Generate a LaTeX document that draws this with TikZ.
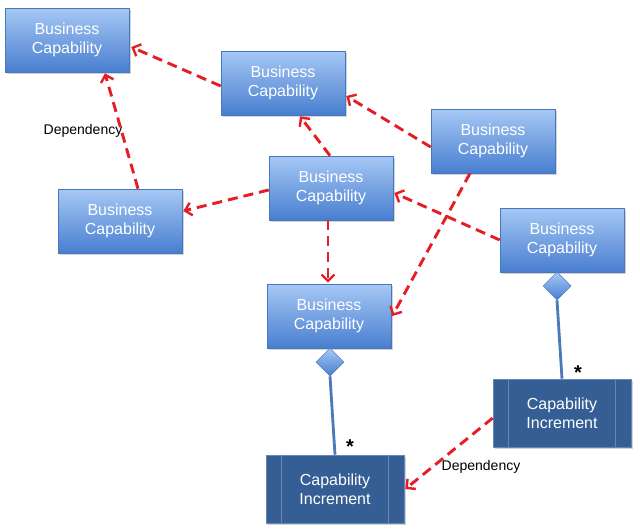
\documentclass[tikz,border=0pt]{standalone}
\usepackage{fontspec}
\setmainfont{Liberation Sans}
\usetikzlibrary{arrows.meta,shapes.geometric,shadows}
\definecolor{bctop}{RGB}{166,200,245}
\definecolor{bcbot}{RGB}{72,126,208}
\definecolor{bcborder}{RGB}{70,120,190}
\definecolor{incfill}{RGB}{52,94,148}
\definecolor{incline}{RGB}{100,135,180}
\definecolor{deparrow}{RGB}{228,30,36}
\definecolor{assoc}{RGB}{74,122,184}
\tikzset{
  bc/.style={draw=bcborder, line width=0.6pt, top color=bctop, bottom color=bcbot,
    minimum width=124pt, minimum height=64pt, align=center, text=white,
    font=\fontsize{16}{19}\selectfont, inner sep=0pt,
    drop shadow={opacity=0.35, shadow xshift=1.5pt, shadow yshift=-2pt}},
  inc/.style={draw=incline, line width=0.6pt, fill=incfill,
    minimum width=138pt, minimum height=68pt, align=center, text=white,
    font=\fontsize{16}{19}\selectfont, inner sep=0pt,
    drop shadow={opacity=0.35, shadow xshift=1.5pt, shadow yshift=-2pt}},
  dia/.style={diamond, draw=bcborder, line width=0.5pt, top color=bctop, bottom color=bcbot,
    minimum width=28pt, minimum height=28pt, inner sep=0pt, aspect=1},
  dep/.style={draw=deparrow, line width=2.9pt, dash pattern=on 10pt off 6pt,
    -{Straight Barb[length=6.5pt,width=13pt,line width=2.4pt]}},
  assocline/.style={draw=assoc, line width=2.8pt},
  lbl/.style={font=\fontsize{14}{16}\selectfont, text=black, inner sep=0pt},
  star/.style={font=\fontsize{20}{20}\selectfont\bfseries, text=black, inner sep=0pt}
}
\begin{document}
\begin{tikzpicture}[x=1pt,y=-1pt]
\useasboundingbox[fill=white] (0,0) rectangle (640,530);
\node[bc] (A) at (67,40) {Business\\Capability};
\node[bc] (B) at (283,83) {Business\\Capability};
\node[bc] (C) at (493,141) {Business\\Capability};
\node[bc] (D) at (331,188) {Business\\Capability};
\node[bc] (E) at (120,221) {Business\\Capability};
\node[bc] (F) at (562,240) {Business\\Capability};
\node[bc] (G) at (329,316) {Business\\Capability};
\node[inc] (H) at (335,489) {Capability\\Increment};
\node[inc] (I) at (562,413) {Capability\\Increment};
\foreach \n in {H,I}{
  \draw[incline, line width=0.6pt] ([xshift=16pt]\n.north west) -- ([xshift=16pt]\n.south west);
  \draw[incline, line width=0.6pt] ([xshift=-16pt]\n.north east) -- ([xshift=-16pt]\n.south east);
}
\node[dia] (DG) at (330,362) {};
\node[dia] (DF) at (557,286) {};
\draw[assocline] (DG.south) -- (H.north);
\draw[assocline] (DF.south) -- (I.north);
\node[star] (s1) at (350,447) {*};
\node[star] (s2) at (578,373) {*};
\node[lbl] (l1) at (83,131) {Dependency};
\node[lbl] (l2) at (481,467) {Dependency};
% dependencies
\draw[dep] ([yshift=-3pt]B.west) -- ([xshift=2pt,yshift=-7pt]A.east);
\draw[dep] ([xshift=18pt]E.north) -- ([xshift=38pt,yshift=-1pt]A.south);
\draw[dep] ([xshift=-1pt]D.north) -- ([xshift=17pt,yshift=-1pt]B.south);
\draw[dep] ([yshift=-6pt]C.west) -- ([xshift=1pt,yshift=-13pt]B.east);
\draw[dep] ([yshift=-2pt]D.west) -- ([xshift=1pt,yshift=10pt]E.east);
\draw[dep] (F.west) -- ([xshift=1pt,yshift=-5pt]D.east);
\draw[dep] ([xshift=-3pt]D.south) -- ([xshift=-1pt,yshift=1pt]G.north);
\draw[dep] ([xshift=-23pt]C.south) -- ([xshift=1pt]G.east);
\draw[dep] ([yshift=-5pt]I.west) -- ([xshift=1pt]H.east);
\end{tikzpicture}
\end{document}
